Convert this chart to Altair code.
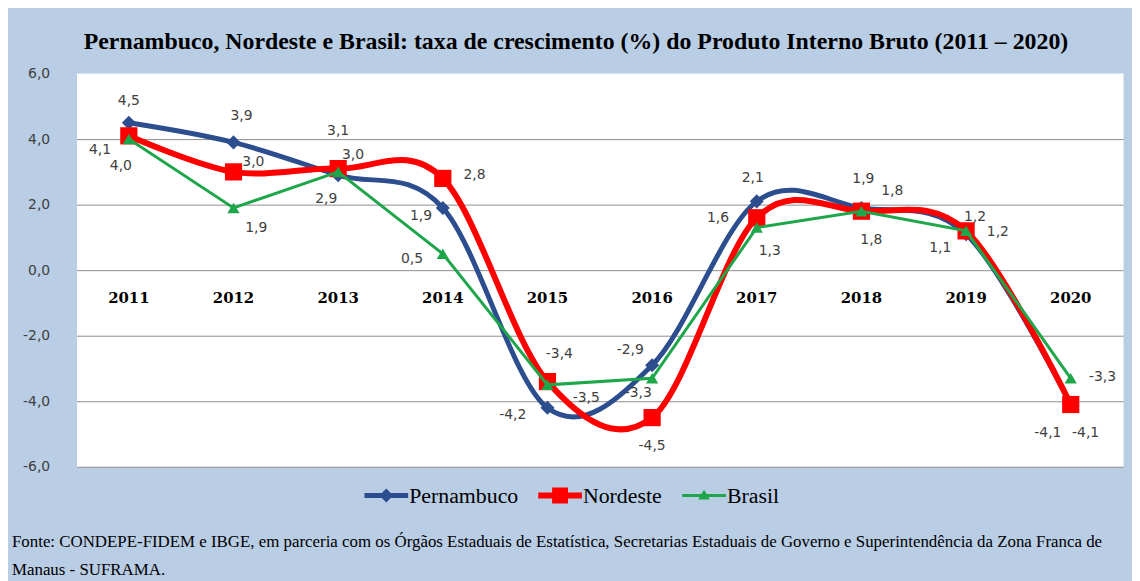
import altair as alt
import pandas as pd

# ---------------- data ----------------
anos = ["2011", "2012", "2013", "2014", "2015", "2016", "2017", "2018", "2019", "2020"]
series = ["Pernambuco", "Nordeste", "Brasil"]
pernambuco = [4.5, 3.9, 2.9, 1.9, -4.2, -2.9, 2.1, 1.9, 1.1, -4.1]
nordeste = [4.1, 3.0, 3.1, 2.8, -3.4, -4.5, 1.6, 1.8, 1.2, -4.1]
brasil = [4.0, 1.9, 3.0, 0.5, -3.5, -3.3, 1.3, 1.8, 1.2, -3.3]
y_ticks = [-6, -4, -2, 0, 2, 4, 6]

titulo = "Pernambuco, Nordeste e Brasil: taxa de crescimento (%) do Produto Interno Bruto (2011 – 2020)"
fonte = ("Fonte: CONDEPE-FIDEM e IBGE, em parceria com os Órgãos Estaduais de Estatística, "
         "Secretarias Estaduais de Governo e Superintendência da Zona Franca de\nManaus - SUFRAMA.")

# ---------------- label placement (pixel offsets from each point) ----------------
lab_dx = {
    "Pernambuco": [0, 8, -12, -22, -35, -22, -4, 2, -26, -23],
    "Nordeste": [-29, 20, 0, 32, 12, 0, -39, 31, 32, 15],
    "Brasil": [-8, 23, 15, -31, 39, -14, 13, 10, 9, 32],
}
lab_dy = {
    "Pernambuco": [-22, -27, 24, 8, 7, -15, -23, -29, 14, 29],
    "Nordeste": [14, -10, -38, -3, -28, 29, 0, -20, 1, 29],
    "Brasil": [27, 20, -17, 5, 13, 15, 24, 29, -14, -1],
}

# ---------------- styles ----------------
cores = ["#2c4d8e", "#ff0000", "#1ea64b"]
larg_linha = [5, 6, 3]
formas = ["diamond", "square", "triangle-up"]
tam_marc = [200, 300, 150]
interp = ["cardinal", "cardinal", "linear"]
leg_paths = [
    "M-1,-0.114L-0.206,-0.114L0,-0.32L0.206,-0.114L1,-0.114L1,0.114L0.206,0.114L0,0.32L-0.206,0.114L-1,0.114Z",
    "M-1,-0.136L-0.364,-0.136L-0.364,-0.364L0.364,-0.364L0.364,-0.136L1,-0.136L1,0.136L0.364,0.136L0.364,0.364L-0.364,0.364L-0.364,0.136L-1,0.136Z",
    "M-1,-0.068L-0.121,-0.068L0,-0.27L0.121,-0.068L1,-0.068L1,0.068L0.203,0.068L0.27,0.18L-0.27,0.18L-0.203,0.068L-1,0.068Z",
]

W, H = 1054, 396
Y_MIN, Y_MAX = -6, 6
px_per_unit = H / (Y_MAX - Y_MIN)

valores = {"Pernambuco": pernambuco, "Nordeste": nordeste, "Brasil": brasil}
rows = []
for s in series:
    for a, v, dx, dy in zip(anos, valores[s], lab_dx[s], lab_dy[s]):
        rows.append({"ano": a, "serie": s, "valor": v,
                     "rotulo": ("-" if v < 0 else "") + f"{abs(v):.1f}".replace(".", ","),
                     "dx": dx, "ylab": v - dy / px_per_unit})
df = pd.DataFrame(rows)
df_anos = pd.DataFrame({"ano": anos, "valor": [0] * len(anos)})

x_enc = alt.X("ano:O", scale=alt.Scale(type="point", padding=0.5, domain=anos), axis=None)
y_scale = alt.Scale(domain=[Y_MIN, Y_MAX], nice=False, zero=False)
y_enc = alt.Y(
    "valor:Q",
    scale=y_scale,
    axis=alt.Axis(
        values=y_ticks, title=None, ticks=False, domain=False, grid=True,
        gridColor={"condition": {"test": "datum.value === 6", "value": "#ffffff"}, "value": "#8c8c8c"},
        gridWidth=1,
        labelExpr="(datum.value < 0 ? '-' : '') + replace(format(abs(datum.value), '.1f'), '.', ',')",
        labelFont="DejaVu Sans", labelFontSize=14, labelColor="#404040", labelPadding=27,
    ),
)

layers = []
for s, c, w, f, sz, it in zip(series, cores, larg_linha, formas, tam_marc, interp):
    base = alt.Chart(df).transform_filter(alt.datum.serie == s)
    line_kw = dict(color=c, strokeWidth=w, interpolate=it)
    if it == "cardinal":
        line_kw["tension"] = 0
    layers.append(base.mark_line(**line_kw).encode(x=x_enc, y=y_enc))
    layers.append(base.mark_point(shape=f, filled=True, color=c, size=sz, opacity=1).encode(x=x_enc, y=y_enc))

legend = alt.Legend(
    title=None, orient="none", legendX=290, legendY=403, direction="horizontal",
    symbolSize=1936, symbolStrokeWidth=0, columnPadding=20, labelOffset=1, padding=0,
)
legend_layer = alt.Chart(df).transform_filter("false").mark_point(filled=True, opacity=1).encode(
    x=x_enc, y=y_enc,
    color=alt.Color("serie:N", scale=alt.Scale(domain=series, range=cores), legend=legend),
    shape=alt.Shape("serie:N", scale=alt.Scale(domain=series, range=leg_paths), legend=legend),
)

labels = alt.Chart(df).mark_text(font="DejaVu Sans", fontSize=14, color="#404040").encode(
    x=x_enc,
    y=alt.Y("ylab:Q", scale=y_scale),
    text="rotulo:N",
    xOffset=alt.XOffset("dx:Q", scale=None),
)

year_labels = alt.Chart(df_anos).mark_text(
    font="DejaVu Serif", fontWeight="bold", fontSize=15, color="#000000", dy=28
).encode(x=x_enc, y=y_enc, text="ano:N")

foot = alt.Chart(pd.DataFrame({"t": [fonte]})).mark_text(
    font="Liberation Serif", fontSize=17, color="#000000", align="left", baseline="middle",
    lineBreak="\n", lineHeight=28,
).encode(x=alt.value(-65), y=alt.value(472), text="t:N")

chart = alt.layer(*layers, legend_layer, labels, year_labels, foot).properties(
    width=W, height=H,
    autosize=alt.AutoSizeParams(type="none"),
    padding={"left": 69, "top": 64, "right": 9, "bottom": 113},
    background="#b9cde5",
    title=alt.TitleParams(
        text=titulo, font="Liberation Serif", fontSize=24, fontWeight="bold", color="#000000",
        anchor="middle", dx=-24, offset=13,
    ),
).configure_view(
    fill="#ffffff", stroke="transparent"
).configure_legend(
    labelFont="Liberation Serif", labelFontSize=22, labelColor="#000000", labelFontWeight="normal"
)

chart.save("out.html", embed_options={"renderer": "svg", "actions": False})
